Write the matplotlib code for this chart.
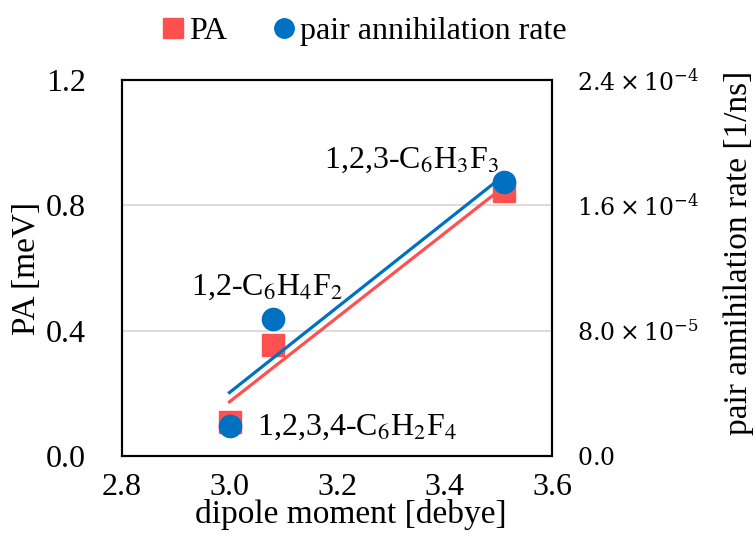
import numpy as np
import matplotlib
matplotlib.use("Agg")
import matplotlib.pyplot as plt
from matplotlib.lines import Line2D

# ---- data ----
dipole = [3.00, 3.08, 3.51]               # debye
pa_mev = [0.11, 0.355, 0.847]             # meV
rate = [1.92e-5, 8.75e-5, 1.75e-4]        # 1/ns
molecules = [r"1,2,3,4-C$_6$H$_2$F$_4$", r"1,2-C$_6$H$_4$F$_2$", r"1,2,3-C$_6$H$_3$F$_3$"]
x_ticks = [2.8, 3.0, 3.2, 3.4, 3.6]
left_ticks = [0.0, 0.4, 0.8, 1.2]
right_ticks = [0.0, 8.0e-5, 1.6e-4, 2.4e-4]
right_labels = [r"$0.0$", r"$8.0\times10^{-5}$", r"$1.6\times10^{-4}$", r"$2.4\times10^{-4}$"]

RED = "#FF5050"
BLUE = "#0070C0"

plt.rcParams["font.family"] = ["Liberation Serif", "DejaVu Serif"]
plt.rcParams["mathtext.fontset"] = "dejavuserif"

fig = plt.figure(figsize=(7.56, 5.5), dpi=100)
ax = fig.add_axes([122/756, 1-456/550, (552-122)/756, (456-80)/550])
ax2 = ax.twinx()

FS = 23

# markers
ax.plot(dipole, pa_mev, linestyle="none", marker="s", markersize=16, color=RED, zorder=3)
ax2.plot(dipole, rate, linestyle="none", marker="o", markersize=16, color=BLUE, zorder=3)

# linear trend lines
xfit = np.array([min(dipole), max(dipole)])
p1 = np.polyfit(dipole, pa_mev, 1)
p2 = np.polyfit(dipole, rate, 1)
ax.plot(xfit, np.polyval(p1, xfit), color=RED, lw=2.3, zorder=4)
ax2.plot(xfit, np.polyval(p2, xfit), color=BLUE, lw=2.3, zorder=4)

ax.set_xlim(2.8, 3.6)
ax.set_ylim(0, 1.2)
ax2.set_ylim(0, 2.4e-4)

ax.set_xticks(x_ticks)
ax.set_xticklabels([f"{v:.1f}" for v in x_ticks])
ax.set_yticks(left_ticks)
ax.set_yticklabels([f"{v:.1f}" for v in left_ticks])
ax2.set_yticks(right_ticks)
ax2.set_yticklabels(right_labels)

ax.tick_params(axis="both", length=0, labelsize=FS)
ax.tick_params(axis="y", pad=26)
ax.tick_params(axis="x", pad=12)
ax2.tick_params(axis="y", length=0, labelsize=17, pad=18)
for lbl in ax2.get_yticklabels():
    lbl.set_fontfamily("DejaVu Serif")

ax.grid(axis="y", color="#D9D9D9", lw=1.3)
ax.set_axisbelow(True)
for a in (ax, ax2):
    for s in a.spines.values():
        s.set_linewidth(1.5)
        s.set_color("black")

ax.set_xlabel("dipole moment [debye]", fontsize=24)
ax.xaxis.set_label_coords(0.533, -0.115)
ax.set_ylabel("PA [meV]", fontsize=24)
ax.yaxis.set_label_coords(-0.186, 0.5)
ax2.set_ylabel("pair annihilation rate [1/ns]", fontsize=24)
ax2.yaxis.set_label_coords(1.4, 0.54)

# annotations
offsets = [((20, -9.5), "left"), ((-4, 36), "center"), ((-3.5, 16.5), "right")]
for (xv, yv, name, (off, ha)) in zip(dipole, pa_mev, molecules, offsets):
    ax.annotate(name, xy=(xv, yv), xytext=off, textcoords="offset points",
                ha=ha, va="baseline", fontsize=FS, math_fontfamily="stix")

handles = [Line2D([], [], linestyle="none", marker="s", markersize=14, color=RED),
           Line2D([], [], linestyle="none", marker="o", markersize=14, color=BLUE)]
fig.legend(handles, ["PA", "pair annihilation rate"], loc="center",
           bbox_to_anchor=(0.481, 0.943), ncol=2, frameon=False, fontsize=FS,
           handletextpad=0.1, columnspacing=1.4, handlelength=0.8)

fig.savefig("out.png", dpi=100)
